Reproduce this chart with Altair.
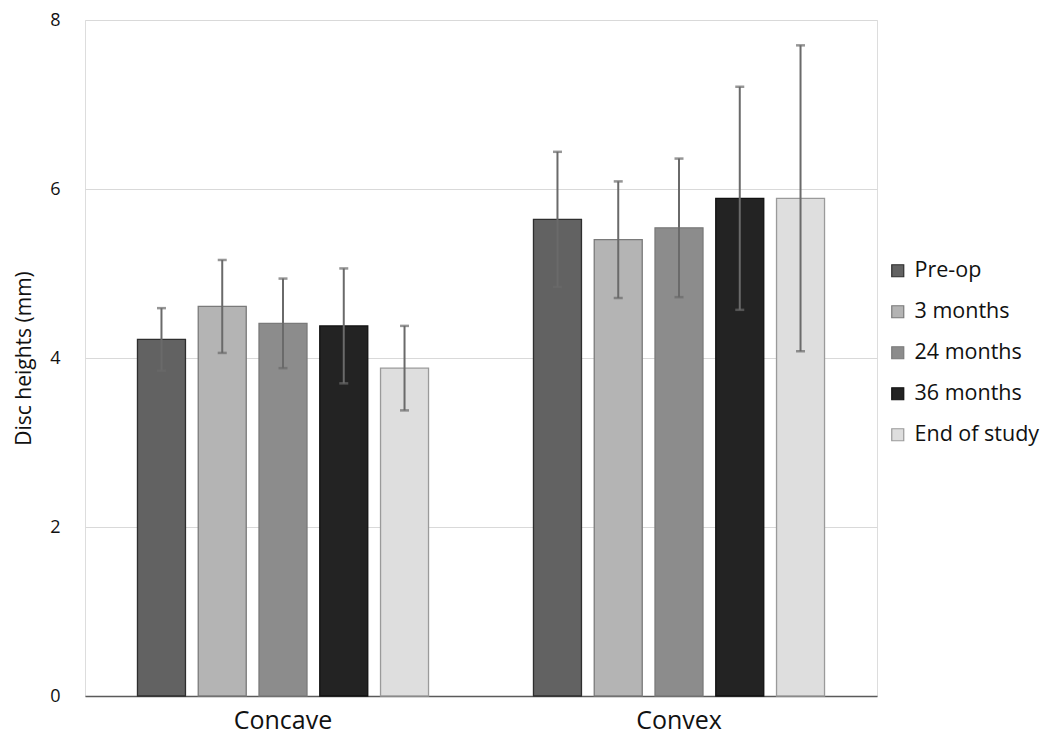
import altair as alt
import pandas as pd

groups = ["Concave", "Convex"]
series = ["Pre-op", "3 months", "24 months", "36 months", "End of study"]
concave_mean = [4.22, 4.61, 4.41, 4.38, 3.88]
concave_err = [0.37, 0.55, 0.53, 0.68, 0.50]
convex_mean = [5.64, 5.40, 5.54, 5.89, 5.89]
convex_err = [0.80, 0.69, 0.82, 1.32, 1.81]

fills = ["#626262", "#b4b4b4", "#8c8c8c", "#232323", "#dedede"]
strokes = ["#2e2e2e", "#7a7a7a", "#7a7a7a", "#111111", "#9a9a9a"]

rows = []
for g, means, errs in [("Concave", concave_mean, concave_err), ("Convex", convex_mean, convex_err)]:
    for s, m, e in zip(series, means, errs):
        rows.append({"group": g, "series": s, "mean": m, "lo": m - e, "hi": m + e})
df = pd.DataFrame(rows)

FONT = "Open Sans"

x = alt.X("group:N", sort=groups, title=None,
          scale=alt.Scale(paddingInner=0.265, paddingOuter=0.1325),
          axis=alt.Axis(labelAngle=0, labelFontSize=25, labelColor="#111111", labelFont=FONT,
                        labelPadding=12, ticks=False, domain=True, domainColor="#5a5a5a",
                        domainWidth=1.5, grid=False))
xo = alt.XOffset("series:N", sort=series, scale=alt.Scale(paddingInner=0.21, paddingOuter=0))

bars = alt.Chart(df).mark_bar(strokeWidth=1.3).encode(
    x=x,
    xOffset=xo,
    y=alt.Y("mean:Q", title="Disc heights (mm)",
            scale=alt.Scale(domain=[0, 8]),
            axis=alt.Axis(values=[0, 2, 4, 6, 8], format="d", domain=False, ticks=False,
                          gridColor="#d9d9d9", gridWidth=1, labelFontSize=18, labelColor="#111111",
                          labelFont=FONT, labelPadding=25, titleFont=FONT, titleFontSize=21,
                          titleFontWeight="normal", titleColor="#111111", titlePadding=15)),
    fill=alt.Fill("series:N", sort=series, scale=alt.Scale(domain=series, range=fills),
                  legend=alt.Legend(title=None, orient="none", legendX=802, legendY=240,
                                    symbolType="square", symbolSize=144, symbolStrokeWidth=1.2,
                                    labelFont=FONT, labelFontSize=21.5, labelColor="#111111",
                                    rowPadding=18, labelOffset=6, padding=0)),
    stroke=alt.Stroke("series:N", sort=series, scale=alt.Scale(domain=series, range=strokes),
                      legend=None),
)

rules = alt.Chart(df).mark_rule(color="#6a6a6a", strokeWidth=2).encode(
    x=alt.X("group:N", sort=groups),
    xOffset=xo,
    y="lo:Q",
    y2="hi:Q",
)

caps_hi = alt.Chart(df).mark_tick(color="#6a6a6a", thickness=2.5, size=9, orient="horizontal").encode(
    x=alt.X("group:N", sort=groups),
    xOffset=xo,
    y="hi:Q",
)
caps_lo = alt.Chart(df).mark_tick(color="#6a6a6a", thickness=2.5, size=9, orient="horizontal").encode(
    x=alt.X("group:N", sort=groups),
    xOffset=xo,
    y="lo:Q",
)

chart = alt.layer(bars, rules, caps_hi, caps_lo).properties(
    width=792, height=676,
    autosize=alt.AutoSizeParams(type="none"),
    padding={"left": 77, "top": 12, "right": 165, "bottom": 40},
).configure_view(stroke=None).configure(font=FONT, background="white")

chart.save("out.html", embed_options={"renderer": "svg", "actions": False})
